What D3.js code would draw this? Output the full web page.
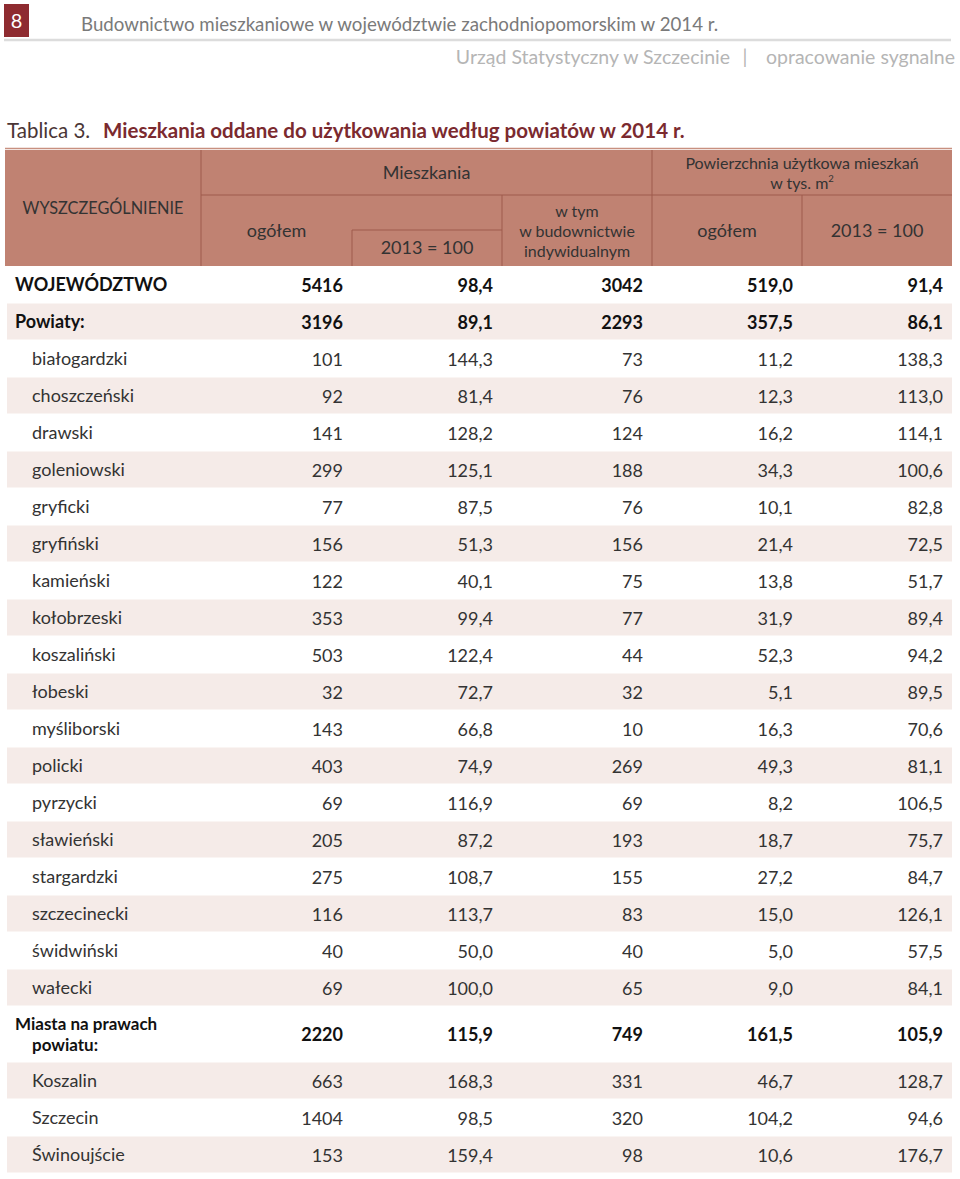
<!DOCTYPE html>
<html><head><meta charset="utf-8">
<script src="https://cdn.jsdelivr.net/npm/d3@7"></script>
<style>
html,body{margin:0;padding:0;background:#fff;}
svg text{font-family:Lato,"Open Sans",sans-serif;white-space:pre;}
</style></head>
<body>
<svg id="chart" width="960" height="1179"></svg>
<script>
// ---- data ----
const labels = ["WOJEWÓDZTWO","Powiaty:","białogardzki","choszczeński","drawski","goleniowski","gryficki","gryfiński","kamieński","kołobrzeski","koszaliński","łobeski","myśliborski","policki","pyrzycki","sławieński","stargardzki","szczecinecki","świdwiński","wałecki","Miasta na prawach|powiatu:","Koszalin","Szczecin","Świnoujście"];
const bold =   [1,1,0,0,0,0,0,0,0,0,0,0,0,0,0,0,0,0,0,0,1,0,0,0];
const indent = [0,0,1,1,1,1,1,1,1,1,1,1,1,1,1,1,1,1,1,1,0,1,1,1];
const mieszkOgolem = ["5416","3196","101","92","141","299","77","156","122","353","503","32","143","403","69","205","275","116","40","69","2220","663","1404","153"];
const mieszkIdx = ["98,4","89,1","144,3","81,4","128,2","125,1","87,5","51,3","40,1","99,4","122,4","72,7","66,8","74,9","116,9","87,2","108,7","113,7","50,0","100,0","115,9","168,3","98,5","159,4"];
const mieszkIndyw = ["3042","2293","73","76","124","188","76","156","75","77","44","32","10","269","69","193","155","83","40","65","749","331","320","98"];
const powOgolem = ["519,0","357,5","11,2","12,3","16,2","34,3","10,1","21,4","13,8","31,9","52,3","5,1","16,3","49,3","8,2","18,7","27,2","15,0","5,0","9,0","161,5","46,7","104,2","10,6"];
const powIdx = ["91,4","86,1","138,3","113,0","114,1","100,6","82,8","72,5","51,7","89,4","94,2","89,5","70,6","81,1","106,5","75,7","84,7","126,1","57,5","84,1","105,9","128,7","94,6","176,7"];
const columns = ["label","ogolem","idx","indyw","powOgolem","powIdx"];

// ---- layout ----
const svg = d3.select("#chart");
const tableLeft = 5, tableRight = 952;
const headTop = 150, headBottom = 266;
const headColor = "#c08272", headLine = "#9e5a4c", textDark = "#333";
const bandColor = "#f5ebe8";
const bodySize = 18, headSize = 18, headMultiSize = 16;

const x = d3.scaleOrdinal().domain(columns).range([5, 201, 352, 502, 652, 802]);
const colRight = c => { const i = columns.indexOf(c); return i < columns.length - 1 ? x(columns[i+1]) : tableRight; };

// page header
svg.append("rect").attr("x",4).attr("y",4).attr("width",25).attr("height",33).attr("fill","#8e2b30");
svg.append("text").attr("x",16.5).attr("y",28).attr("text-anchor","middle").attr("fill","#fff").attr("font-size",20).text("8");
svg.append("text").attr("x",81).attr("y",31).attr("fill","#7a7a7a").attr("font-size",18.7)
  .text("Budownictwo mieszkaniowe w województwie zachodniopomorskim w 2014 r.");
svg.append("line").attr("x1",4).attr("x2",951).attr("y1",40).attr("y2",40).attr("stroke","#dcdcdc").attr("stroke-width",2.5);
const sub = svg.append("text").attr("y",64).attr("fill","#b5b5b5").attr("font-size",19.5);
sub.append("tspan").attr("x",730).attr("text-anchor","end").text("Urząd Statystyczny w Szczecinie");
sub.append("tspan").attr("x",745).attr("text-anchor","middle").text("|");
sub.append("tspan").attr("x",955).attr("text-anchor","end").text("opracowanie sygnalne");

// table title
svg.append("text").attr("x",7).attr("y",138).attr("font-size",20.5).attr("fill","#4a3535").text("Tablica 3.");
svg.append("text").attr("x",103).attr("y",138).attr("font-size",20.5).attr("fill","#7b2a2f").attr("font-weight","bold")
  .text("Mieszkania oddane do użytkowania według powiatów w 2014 r.");
svg.append("line").attr("x1",5).attr("x2",952).attr("y1",148.5).attr("y2",148.5).attr("stroke","#c89080").attr("stroke-width",1.5);

// header block
const hg = svg.append("g");
hg.append("rect").attr("x",tableLeft).attr("y",headTop).attr("width",tableRight-tableLeft).attr("height",headBottom-headTop).attr("fill",headColor);
const hl = (x1,y1,x2,y2) => hg.append("line").attr("x1",x1).attr("y1",y1).attr("x2",x2).attr("y2",y2).attr("stroke",headLine).attr("stroke-width",1);
const r1 = 195, r2 = 230;
hl(x("ogolem"),headTop,x("ogolem"),headBottom);
hl(x("powOgolem"),headTop,x("powOgolem"),headBottom);
hl(x("ogolem"),r1,tableRight,r1);
hl(x("idx"),r2,x("indyw"),r2);
hl(x("idx"),r2,x("idx"),headBottom);
hl(x("indyw"),r1,x("indyw"),headBottom);
hl(x("powIdx"),r1,x("powIdx"),headBottom);

const headText = (cx, cy, lines, size) => {
  const lh = 19.6;
  const fs = size || (lines.length > 1 ? headMultiSize : headSize);
  lines.forEach((l,i) => {
    const ts = hg.append("text").attr("text-anchor","middle").attr("fill",textDark).attr("font-size",fs)
      .attr("x",cx).attr("y",cy + (i - (lines.length-1)/2)*lh + 5.5);
    if (typeof l === "string") ts.text(l);
    else { ts.text(l[0]); ts.append("tspan").attr("font-size",9.5).attr("dy",-6.5).text(l[1]); }
  });
};
const mid = (a,b) => (a+b)/2;
headText(mid(tableLeft,x("ogolem")), 208, ["WYSZCZEGÓLNIENIE"], 16.3);
headText(mid(x("ogolem"),x("powOgolem")), 173, ["Mieszkania"]);
headText(mid(x("ogolem"),x("idx")), 231, ["ogółem"]);
headText(mid(x("idx"),x("indyw")), 248, ["2013 = 100"]);
headText(mid(x("indyw"),x("powOgolem")), 231.5, ["w tym","w budownictwie","indywidualnym"]);
headText(mid(x("powOgolem"),tableRight), 173.5, ["Powierzchnia użytkowa mieszkań",["w tys. m","2"]]);
headText(mid(x("powOgolem"),x("powIdx")), 231, ["ogółem"]);
headText(mid(x("powIdx"),tableRight), 231, ["2013 = 100"]);

// body rows
const rows = labels.map((l,i) => ({
  lines: l.split("|"), bold: bold[i], indent: indent[i],
  vals: [mieszkOgolem[i], mieszkIdx[i], mieszkIndyw[i], powOgolem[i], powIdx[i]]
}));
const baseH = 37, extraLine = 19;
let acc = headBottom;
rows.forEach(r => { r.h = baseH + (r.lines.length-1)*extraLine; r.y = acc; acc += r.h; });

const body = svg.append("g");
const rg = body.selectAll("g.row").data(rows).join("g").attr("class","row")
  .attr("transform", d => `translate(0,${d.y})`);
rg.filter((d,i) => i % 2 === 1).append("rect")
  .attr("x",7).attr("y",0.5).attr("width",tableRight-7).attr("height",d => d.h-1).attr("fill",bandColor);

rg.each(function(d){
  const g = d3.select(this);
  const cy = d.h/2;
  const multi = d.lines.length > 1;
  d.lines.forEach((l,k) => {
    g.append("text").attr("fill", d.bold ? "#111" : textDark)
      .attr("font-weight", d.bold ? "bold" : null).attr("font-size", multi ? 17 : bodySize)
      .attr("x", (d.indent || k>0) ? 32 : 15)
      .attr("y", cy + (k - (d.lines.length-1)/2)*20.5 + 6.5).text(l);
  });
  const valCols = columns.slice(1);
  g.selectAll("text.v").data(d.vals).join("text").attr("class","v")
    .attr("x",(v,j) => colRight(valCols[j]) - 9)
    .attr("y", cy + 7)
    .attr("text-anchor","end").attr("font-size",bodySize)
    .attr("fill", d.bold ? "#111" : textDark)
    .attr("font-weight", d.bold ? "bold" : null)
    .text(v => v);
});
</script>
</body></html>
